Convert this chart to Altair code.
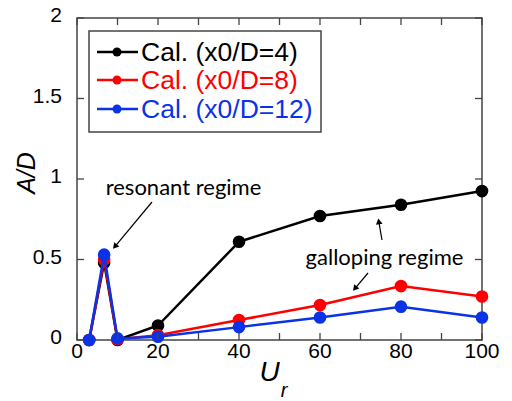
import math
import altair as alt
import pandas as pd

# ---------------- data ----------------
ur = [3, 6.7, 10, 20, 40, 60, 80, 100]
ad_x0_4 = [0.0, 0.48, 0.0, 0.09, 0.61, 0.77, 0.84, 0.925]
ad_x0_8 = [0.0, 0.50, 0.005, 0.03, 0.124, 0.217, 0.335, 0.27]
ad_x0_12 = [0.0, 0.53, 0.01, 0.02, 0.08, 0.14, 0.207, 0.14]

series_names = ["Cal. (x0/D=4)", "Cal. (x0/D=8)", "Cal. (x0/D=12)"]
series_values = [ad_x0_4, ad_x0_8, ad_x0_12]
series_colors = ["#000000", "#ff0000", "#0a32e6"]

x_tick_values = list(range(0, 101, 10))
x_label_values = [0, 20, 40, 60, 80, 100]
x_label_texts = ["0", "20", "40", "60", "80", "100"]
y_tick_values = [0, 0.5, 1, 1.5, 2]
y_label_texts = ["0", "0.5", "1", "1.5", "2"]

# ---------------- layout ----------------
W, H = 405, 322
X0, X1 = 0, 100
Y0, Y1 = 0, 2
FRAME = "#444444"


def px2x(px):
    return (px - 77) / W * (X1 - X0)


def py2y(py):
    return (340 - py) / H * (Y1 - Y0)


xs = alt.Scale(domain=[X0, X1], nice=False, zero=False)
ys = alt.Scale(domain=[Y0, Y1], nice=False, zero=False)
cs = alt.Scale(domain=series_names, range=series_colors)

layers = []

# series: line + points, black first, blue last (on top)
for name, vals in zip(series_names, series_values):
    df = pd.DataFrame({"Ur": ur, "AD": vals, "series": name})
    enc = dict(
        x=alt.X("Ur:Q", scale=xs, axis=None),
        y=alt.Y("AD:Q", scale=ys, axis=None),
        color=alt.Color("series:N", scale=cs, legend=None),
    )
    layers.append(alt.Chart(df).mark_line(strokeWidth=2.5).encode(**enc))
    layers.append(alt.Chart(df).mark_circle(size=160, opacity=1).encode(**enc))

# inward ticks on all four sides
xt = pd.DataFrame({"v": x_tick_values})
yt = pd.DataFrame({"v": y_tick_values})
for yv, y2v in [(H, H - 7), (0, 7)]:
    layers.append(alt.Chart(xt).mark_rule(color=FRAME, strokeWidth=1.3).encode(
        x=alt.X("v:Q", scale=xs, axis=None), y=alt.value(yv), y2=alt.value(y2v)))
for xv, x2v in [(0, 7), (W, W - 7)]:
    layers.append(alt.Chart(yt).mark_rule(color=FRAME, strokeWidth=1.3).encode(
        y=alt.Y("v:Q", scale=ys, axis=None), x=alt.value(xv), x2=alt.value(x2v)))

# tick labels
xl = pd.DataFrame({"v": x_label_values, "t": x_label_texts})
yl = pd.DataFrame({"v": y_tick_values, "t": y_label_texts})
layers.append(alt.Chart(xl).mark_text(font="Liberation Sans", fontSize=21, color="black",
                                       align="center", baseline="top").encode(
    x=alt.X("v:Q", scale=xs, axis=None), y=alt.value(H + 1), text="t:N"))
layers.append(alt.Chart(yl).mark_text(font="Liberation Sans", fontSize=21, color="black",
                                       align="right", baseline="middle", dy=-2).encode(
    y=alt.Y("v:Q", scale=ys, axis=None), x=alt.value(-15), text="t:N"))

# axis titles: A/D (rotated) and U_r
titles = [("A/D", -50, H / 2 - 6, 25, 270), ("U", 192.5, 355, 28, 0), ("r", 207, 373, 20, 0)]
for t, xv, yv, s, a in titles:
    layers.append(alt.Chart(pd.DataFrame({"t": [t]})).mark_text(
        font="Liberation Sans", fontStyle="italic", fontSize=s, color="black",
        align="center", baseline="middle", angle=a).encode(
        x=alt.value(xv), y=alt.value(yv), text="t:N"))

# legend box
box = pd.DataFrame({"x": [px2x(89)], "x2": [px2x(321)], "y": [py2y(31)], "y2": [py2y(132)]})
layers.append(alt.Chart(box).mark_rect(fill="white", stroke=FRAME, strokeWidth=1.5).encode(
    x=alt.X("x:Q", scale=xs, axis=None), x2="x2:Q",
    y=alt.Y("y:Q", scale=ys, axis=None), y2="y2:Q"))

leg = pd.DataFrame({
    "series": series_names,
    "y": [py2y(52), py2y(80), py2y(109)],
    "xa": [px2x(97)] * 3, "xb": [px2x(138)] * 3, "xc": [px2x(117)] * 3,
    "xt": [px2x(141)] * 3,
})
cenc = alt.Color("series:N", scale=cs, legend=None)
layers.append(alt.Chart(leg).mark_rule(strokeWidth=2.5).encode(
    x=alt.X("xa:Q", scale=xs, axis=None), x2="xb:Q",
    y=alt.Y("y:Q", scale=ys, axis=None), color=cenc))
layers.append(alt.Chart(leg).mark_circle(size=80, opacity=1).encode(
    x=alt.X("xc:Q", scale=xs, axis=None),
    y=alt.Y("y:Q", scale=ys, axis=None), color=cenc))
layers.append(alt.Chart(leg).mark_text(font="Liberation Sans", fontSize=26.5,
                                        align="left", baseline="middle", dy=1).encode(
    x=alt.X("xt:Q", scale=xs, axis=None),
    y=alt.Y("y:Q", scale=ys, axis=None), text="series:N", color=cenc))

# annotations
notes = pd.DataFrame({"t": ["resonant regime", "galloping regime"],
                      "x": [px2x(183.5), px2x(384.5)],
                      "y": [py2y(188), py2y(258)]})
layers.append(alt.Chart(notes).mark_text(font="Lato", fontSize=22, color="black",
                                          align="center", baseline="middle").encode(
    x=alt.X("x:Q", scale=xs, axis=None), y=alt.Y("y:Q", scale=ys, axis=None),
    text="t:N"))

# arrows (start pixel -> tip pixel)
arrows_px = [((152, 202), (112, 250)), ((382, 240), (378, 217)), ((368, 273), (352, 292))]
rows = []
for (sx, sy), (tx, ty) in arrows_px:
    dx, dy = tx - sx, ty - sy
    L = math.hypot(dx, dy)
    ux, uy = dx / L, dy / L
    hx, hy = tx - ux * 4.5, ty - uy * 4.5
    ang = math.degrees(math.atan2(dx, -dy)) % 360
    rows.append({"x": px2x(sx), "y": py2y(sy), "x2": px2x(hx), "y2": py2y(hy),
                 "hx": px2x(hx), "hy": py2y(hy), "ang": ang})
arr = pd.DataFrame(rows)
layers.append(alt.Chart(arr).mark_rule(color="black", strokeWidth=1.2).encode(
    x=alt.X("x:Q", scale=xs, axis=None), y=alt.Y("y:Q", scale=ys, axis=None),
    x2="x2:Q", y2="y2:Q"))
layers.append(alt.Chart(arr).mark_point(shape="triangle-up", filled=True, size=45,
                                         color="black", opacity=1).encode(
    x=alt.X("hx:Q", scale=xs, axis=None), y=alt.Y("hy:Q", scale=ys, axis=None),
    angle=alt.Angle("ang:Q", scale=None)))

chart = alt.layer(*layers).properties(
    width=W, height=H,
    autosize=alt.AutoSizeParams(type="none"),
    padding={"left": 77, "top": 18, "right": 30, "bottom": 61},
).configure_view(stroke=FRAME, strokeWidth=1.5)

chart.save("out.html", embed_options={"renderer": "svg", "actions": False})
